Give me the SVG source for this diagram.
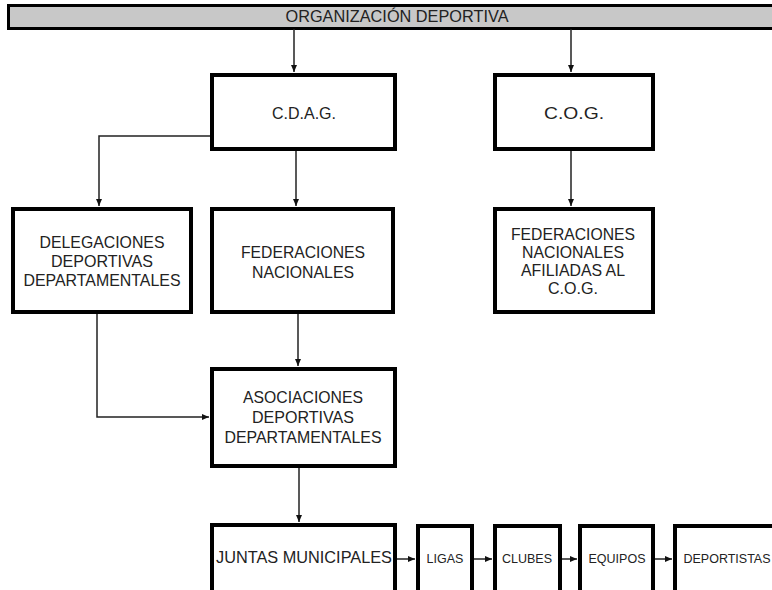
<svg xmlns="http://www.w3.org/2000/svg" width="772" height="590" viewBox="0 0 772 590">
<style>
.box{fill:#fff;stroke:#000;stroke-width:4}
.t{font-family:"Liberation Sans",Arial,sans-serif;font-size:17px;fill:#222;text-anchor:middle}
.s{font-size:12.5px}
.c{fill:none;stroke:#222;stroke-width:1.5}
</style>
<defs>
<marker id="ah" markerUnits="userSpaceOnUse" markerWidth="8" markerHeight="8" refX="7" refY="4" orient="auto">
<path d="M0,1 L7,4 L0,7 Z" fill="#111"/>
</marker>
</defs>
<g id="banner">
<rect x="8.5" y="5.5" width="775" height="23" fill="#c8c8c8" stroke="#000" stroke-width="3"/>
<text class="t" x="397" y="22" textLength="223" lengthAdjust="spacingAndGlyphs">ORGANIZACIÓN DEPORTIVA</text>
</g>
<g id="connectors">
<path class="c" d="M294,29 V72" marker-end="url(#ah)"/>
<path class="c" d="M571,29 V72" marker-end="url(#ah)"/>
<path class="c" d="M210,136 H99 V206" marker-end="url(#ah)"/>
<path class="c" d="M296,151 V206" marker-end="url(#ah)"/>
<path class="c" d="M571,151 V206" marker-end="url(#ah)"/>
<path class="c" d="M298,314 V366" marker-end="url(#ah)"/>
<path class="c" d="M97,314 V417 H209" marker-end="url(#ah)"/>
<path class="c" d="M299,468 V522" marker-end="url(#ah)"/>
<path class="c" d="M397,559 H415" marker-end="url(#ah)"/>
<path class="c" d="M474,559 H492" marker-end="url(#ah)"/>
<path class="c" d="M562,559 H577" marker-end="url(#ah)"/>
<path class="c" d="M655,559 H672" marker-end="url(#ah)"/>
</g>
<g id="cdag">
<rect class="box" x="212" y="75" width="183" height="74"/>
<text class="t" x="304" y="119" textLength="64" lengthAdjust="spacingAndGlyphs">C.D.A.G.</text>
</g>
<g id="cog">
<rect class="box" x="495" y="75" width="158" height="74"/>
<text class="t" x="574" y="119" textLength="60" lengthAdjust="spacingAndGlyphs">C.O.G.</text>
</g>
<g id="delegaciones">
<rect class="box" x="13" y="209" width="178" height="103"/>
<text class="t" x="102" y="248" textLength="125" lengthAdjust="spacingAndGlyphs">DELEGACIONES</text>
<text class="t" x="102" y="267" textLength="102" lengthAdjust="spacingAndGlyphs">DEPORTIVAS</text>
<text class="t" x="102" y="286" textLength="157" lengthAdjust="spacingAndGlyphs">DEPARTAMENTALES</text>
</g>
<g id="federaciones">
<rect class="box" x="212" y="209" width="181" height="103"/>
<text class="t" x="303" y="258" textLength="124" lengthAdjust="spacingAndGlyphs">FEDERACIONES</text>
<text class="t" x="303" y="278" textLength="102" lengthAdjust="spacingAndGlyphs">NACIONALES</text>
</g>
<g id="federaciones-cog">
<rect class="box" x="495" y="209" width="158" height="103"/>
<text class="t" x="573" y="240" textLength="124" lengthAdjust="spacingAndGlyphs">FEDERACIONES</text>
<text class="t" x="573" y="258" textLength="102" lengthAdjust="spacingAndGlyphs">NACIONALES</text>
<text class="t" x="573" y="276" textLength="104" lengthAdjust="spacingAndGlyphs">AFILIADAS AL</text>
<text class="t" x="573" y="294" textLength="50" lengthAdjust="spacingAndGlyphs">C.O.G.</text>
</g>
<g id="asociaciones">
<rect class="box" x="212" y="369" width="183" height="97"/>
<text class="t" x="303" y="403" textLength="120" lengthAdjust="spacingAndGlyphs">ASOCIACIONES</text>
<text class="t" x="303" y="423" textLength="102" lengthAdjust="spacingAndGlyphs">DEPORTIVAS</text>
<text class="t" x="303" y="443" textLength="157" lengthAdjust="spacingAndGlyphs">DEPARTAMENTALES</text>
</g>
<g id="juntas">
<rect class="box" x="212" y="525" width="183" height="75"/>
<text class="t" x="304" y="563" textLength="176" lengthAdjust="spacingAndGlyphs">JUNTAS MUNICIPALES</text>
</g>
<g id="ligas">
<rect class="box" x="418" y="526" width="54" height="75"/>
<text class="t s" x="445" y="563">LIGAS</text>
</g>
<g id="clubes">
<rect class="box" x="495" y="526" width="65" height="75"/>
<text class="t s" x="527" y="563">CLUBES</text>
</g>
<g id="equipos">
<rect class="box" x="580" y="526" width="73" height="75"/>
<text class="t s" x="617" y="563">EQUIPOS</text>
</g>
<g id="deportistas">
<rect class="box" x="675" y="526" width="110" height="75"/>
<text class="t s" x="727" y="563">DEPORTISTAS</text>
</g>
</svg>
